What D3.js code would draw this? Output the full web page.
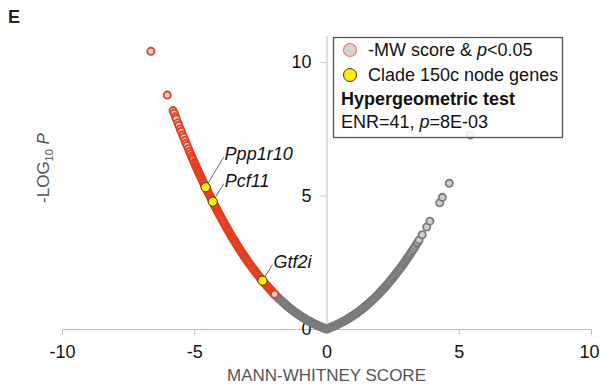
<!DOCTYPE html>
<html>
<head>
<meta charset="utf-8">
<script src="https://cdn.jsdelivr.net/npm/d3@7"></script>
<style>
  html, body { margin: 0; padding: 0; background: #fff; }
  svg { display: block; font-family: "Liberation Sans", Arial, sans-serif; }
</style>
</head>
<body>
<div id="chart"></div>
<script>
// [MW score, -log10 P]
// negative MW score & p<0.05 (red outline), ordered from most negative
const sigPoints = [
  [-6.64,10.40],[-6.02,8.76],
  [-5.80,8.18],[-5.76,8.08],[-5.71,7.95],[-5.68,7.87],[-5.62,7.72],[-5.58,7.62],[-5.53,7.49],[-5.49,7.40],
  [-5.44,7.27],[-5.40,7.18],[-5.35,7.06],[-5.31,6.96],[-5.27,6.87],[-5.22,6.75],[-5.18,6.65],[-5.14,6.56],
  [-5.10,6.47],[-5.07,6.40],[-5.04,6.33],
  [-5.000,6.24],[-4.975,6.19],[-4.950,6.13],[-4.925,6.07],[-4.900,6.02],[-4.875,5.96],[-4.850,5.91],[-4.825,5.85],
  [-4.800,5.80],[-4.775,5.75],[-4.750,5.69],[-4.725,5.64],[-4.700,5.59],[-4.675,5.53],[-4.650,5.48],[-4.625,5.43],
  [-4.600,5.37],[-4.575,5.32],[-4.550,5.27],[-4.525,5.22],[-4.500,5.17],[-4.475,5.12],[-4.450,5.07],[-4.425,5.02],
  [-4.400,4.97],[-4.375,4.92],[-4.350,4.87],[-4.325,4.82],[-4.300,4.77],[-4.275,4.72],[-4.250,4.67],[-4.225,4.62],
  [-4.200,4.57],[-4.175,4.53],[-4.150,4.48],[-4.125,4.43],[-4.100,4.38],[-4.075,4.34],[-4.050,4.29],[-4.025,4.25],
  [-4.000,4.20],
  [-3.97,4.14],[-3.94,4.09],[-3.91,4.04],[-3.88,3.98],[-3.85,3.93],[-3.82,3.88],[-3.79,3.82],[-3.76,3.77],
  [-3.73,3.72],[-3.70,3.67],[-3.67,3.62],[-3.64,3.56],[-3.61,3.51],[-3.58,3.46],[-3.55,3.41],[-3.52,3.37],
  [-3.49,3.32],[-3.46,3.27],[-3.43,3.22],[-3.40,3.17],[-3.37,3.12],[-3.34,3.08],[-3.31,3.03],[-3.28,2.98],
  [-3.25,2.94],[-3.22,2.89],[-3.19,2.85],[-3.16,2.80],[-3.13,2.76],[-3.10,2.71],[-3.07,2.67],[-3.04,2.63],
  [-3.01,2.58],
  [-2.97,2.53],[-2.94,2.48],[-2.90,2.43],[-2.87,2.39],[-2.83,2.33],[-2.80,2.29],[-2.76,2.24],[-2.73,2.20],
  [-2.69,2.15],[-2.66,2.11],[-2.62,2.06],[-2.59,2.02],[-2.55,1.97],[-2.52,1.93],[-2.48,1.88],[-2.45,1.85],
  [-2.41,1.80],[-2.38,1.76],[-2.34,1.72],[-2.31,1.68],[-2.27,1.64],[-2.24,1.60],[-2.20,1.56],[-2.17,1.52],
  [-2.13,1.48],[-2.10,1.45],[-2.06,1.41],[-2.03,1.37],[-1.99,1.33],[-1.96,1.30]
];

// all other genes (gray), ordered from most negative
const otherPoints = [
  [-1.95,1.29],[-1.91,1.25],[-1.87,1.21],[-1.83,1.17],[-1.79,1.13],[-1.75,1.10],[-1.71,1.06],[-1.67,1.02],
  [-1.63,0.99],[-1.59,0.95],[-1.55,0.92],[-1.51,0.88],[-1.47,0.85],[-1.43,0.82],[-1.39,0.78],[-1.35,0.75],
  [-1.31,0.72],[-1.27,0.69],[-1.23,0.66],[-1.19,0.63],[-1.15,0.60],[-1.11,0.57],[-1.07,0.55],[-1.03,0.52],
  [-0.99,0.49],[-0.95,0.47],[-0.91,0.44],[-0.87,0.42],[-0.83,0.39],[-0.79,0.37],[-0.75,0.34],[-0.71,0.32],
  [-0.67,0.30],[-0.63,0.28],[-0.59,0.26],[-0.55,0.24],[-0.51,0.22],[-0.47,0.20],[-0.43,0.18],[-0.39,0.16],
  [-0.35,0.14],[-0.31,0.12],[-0.27,0.10],[-0.23,0.09],[-0.19,0.07],[-0.15,0.06],[-0.11,0.04],[-0.07,0.03],
  [-0.03,0.01],[0.00,0.00],
  [0.03,0.01],[0.07,0.03],[0.11,0.04],[0.15,0.06],[0.19,0.07],[0.23,0.09],[0.27,0.10],[0.31,0.12],
  [0.35,0.14],[0.39,0.16],[0.43,0.18],[0.47,0.20],[0.51,0.22],[0.55,0.24],[0.59,0.26],[0.63,0.28],
  [0.67,0.30],[0.71,0.32],[0.75,0.34],[0.79,0.37],[0.83,0.39],[0.87,0.42],[0.91,0.44],[0.95,0.47],
  [0.99,0.49],[1.03,0.52],[1.07,0.55],[1.11,0.57],[1.15,0.60],[1.19,0.63],[1.23,0.66],[1.27,0.69],
  [1.31,0.72],[1.35,0.75],[1.39,0.78],[1.43,0.82],[1.47,0.85],[1.51,0.88],[1.55,0.92],[1.59,0.95],
  [1.63,0.99],[1.67,1.02],[1.71,1.06],[1.75,1.10],[1.79,1.13],[1.83,1.17],[1.87,1.21],[1.91,1.25],
  [1.95,1.29],[1.99,1.33],[2.03,1.37],[2.06,1.41],[2.10,1.45],[2.13,1.48],[2.17,1.52],[2.20,1.56],
  [2.24,1.60],[2.27,1.64],[2.31,1.68],[2.34,1.72],[2.38,1.76],[2.41,1.80],[2.45,1.85],[2.48,1.88],
  [2.52,1.93],[2.55,1.97],[2.59,2.02],[2.62,2.06],[2.66,2.11],[2.69,2.15],[2.73,2.20],[2.76,2.24],
  [2.80,2.29],[2.83,2.33],[2.87,2.39],[2.90,2.43],[2.94,2.48],[2.97,2.53],[3.01,2.58],[3.04,2.63],
  [3.07,2.67],[3.10,2.71],[3.13,2.76],[3.16,2.80],[3.19,2.85],[3.23,2.91],[3.27,2.97],[3.31,3.03],
  [3.36,3.11],[3.41,3.19],[3.45,3.25],[3.50,3.33],[3.62,3.53],[3.79,3.82],[3.91,4.04],[4.28,4.73],
  [4.38,4.93],[4.64,5.46],[5.44,7.27]
];

// Clade 150c node genes
const cladeGenes = ['Ppp1r10', 'Pcf11', 'Gtf2i'];
const cladeScores = [-4.57, -4.30, -2.42];
const cladeLogP = [5.31, 4.77, 1.81];

const xTicks = [-10, -5, 0, 5, 10];
const yTicks = [0, 5, 10];

const width = 600, height = 387;
const svg = d3.select('#chart').append('svg')
  .attr('width', width)
  .attr('height', height);

const x = d3.scaleLinear().domain([-10, 10]).range([62, 591]);
const y = d3.scaleLinear().domain([0, 11]).range([329, 35.3]);
const x0 = x(0);

// panel letter
svg.append('text')
  .attr('x', 8).attr('y', 23)
  .attr('font-size', 18).attr('font-weight', 'bold')
  .attr('fill', '#222')
  .text('E');

// x axis
const xAxis = svg.append('g')
  .attr('transform', `translate(0,${y(0)})`)
  .call(d3.axisBottom(x).tickValues(xTicks).tickSize(6).tickSizeOuter(0).tickPadding(10).tickFormat(d3.format('d')));
xAxis.select('.domain').attr('stroke', '#bfbfbf');
xAxis.selectAll('.tick line').attr('stroke', '#bfbfbf')
  .attr('display', d => d === 0 ? 'none' : null);
xAxis.selectAll('.tick text')
  .attr('font-size', 18).attr('fill', '#111')
  .attr('font-family', '"Liberation Sans", Arial, sans-serif')
  .text(d => d < 0 ? '-' + Math.abs(d) : d);
// last label sits against the right edge of the figure
xAxis.selectAll('.tick text').filter(d => d === 10)
  .attr('text-anchor', 'end').attr('x', 8);

// y axis through x = 0
const yAxis = svg.append('g')
  .attr('transform', `translate(${x0},0)`)
  .call(d3.axisLeft(y).tickValues(yTicks).tickSize(6).tickSizeOuter(0).tickPadding(9));
yAxis.select('.domain').attr('stroke', '#bfbfbf');
yAxis.selectAll('.tick line').attr('stroke', '#bfbfbf');
yAxis.selectAll('.tick text')
  .attr('font-size', 18).attr('fill', '#111')
  .attr('font-family', '"Liberation Sans", Arial, sans-serif');

// axis titles
svg.append('text')
  .attr('x', x0).attr('y', 381)
  .attr('text-anchor', 'middle')
  .attr('font-size', 17).attr('fill', '#555')
  .text('MANN-WHITNEY SCORE');

const yTitle = svg.append('text')
  .attr('transform', 'translate(49,168) rotate(-90)')
  .attr('text-anchor', 'middle')
  .attr('font-size', 17).attr('fill', '#555');
yTitle.append('tspan').text('-LOG');
yTitle.append('tspan').attr('font-size', 11).attr('dy', 4).text('10');
yTitle.append('tspan').attr('dy', -4).text(' ');
yTitle.append('tspan').attr('font-style', 'italic').text('P');

// gray genes
svg.append('g')
  .selectAll('circle')
  .data(otherPoints)
  .join('circle')
  .attr('cx', d => x(d[0]))
  .attr('cy', d => y(d[1]))
  .attr('r', 3.6)
  .attr('fill', '#cfcfcf')
  .attr('stroke', '#7a7a7a')
  .attr('stroke-width', 1.8);

// significant negative MW genes
svg.append('g')
  .selectAll('circle')
  .data(sigPoints)
  .join('circle')
  .attr('cx', d => x(d[0]))
  .attr('cy', d => y(d[1]))
  .attr('r', 3.6)
  .attr('fill', '#d4d4d4')
  .attr('stroke', '#e63c1c')
  .attr('stroke-width', 1.8);

// clade genes + labels
const labelOffsets = { Ppp1r10: [18, -30], Pcf11: [11, -18], Gtf2i: [10, -16] };
const clade = cladeGenes.map((g, i) => ({ gene: g, score: cladeScores[i], logp: cladeLogP[i] }));

const lab = svg.append('g');
clade.forEach(d => {
  const px = x(d.score), py = y(d.logp);
  const off = labelOffsets[d.gene];
  lab.append('line')
    .attr('x1', px).attr('y1', py)
    .attr('x2', px + off[0]).attr('y2', py + off[1])
    .attr('stroke', '#555').attr('stroke-width', 0.9);
  lab.append('text')
    .attr('x', px + off[0] + 1).attr('y', py + off[1] + 3)
    .attr('font-size', 18).attr('font-style', 'italic').attr('fill', '#111')
    .text(d.gene);
});

svg.append('g')
  .selectAll('circle')
  .data(clade)
  .join('circle')
  .attr('cx', d => x(d.score))
  .attr('cy', d => y(d.logp))
  .attr('r', 4.6)
  .attr('fill', '#ffee00')
  .attr('stroke', '#333')
  .attr('stroke-width', 1);

// legend
const lg = svg.append('g');
lg.append('rect')
  .attr('x', 333.5).attr('y', 37.5)
  .attr('width', 229).attr('height', 100)
  .attr('fill', '#fff').attr('fill-opacity', 0.85)
  .attr('stroke', '#555').attr('stroke-width', 1.3);

lg.append('circle').attr('cx', 350).attr('cy', 50).attr('r', 6.5)
  .attr('fill', '#d4d4d4').attr('stroke', '#ee7a60').attr('stroke-width', 1.2);
lg.append('circle').attr('cx', 350).attr('cy', 75).attr('r', 6.5)
  .attr('fill', '#ffee00').attr('stroke', '#333').attr('stroke-width', 1);

const t1 = lg.append('text').attr('x', 368).attr('y', 56).attr('font-size', 18).attr('fill', '#111');
t1.append('tspan').text('-MW score & ');
t1.append('tspan').attr('font-style', 'italic').text('p');
t1.append('tspan').text('<0.05');

lg.append('text').attr('x', 368).attr('y', 81).attr('font-size', 18).attr('fill', '#111')
  .text('Clade 150c node genes');

lg.append('text').attr('x', 341).attr('y', 105).attr('font-size', 18)
  .attr('font-weight', 'bold').attr('fill', '#111')
  .text('Hypergeometric test');

const t4 = lg.append('text').attr('x', 341).attr('y', 128).attr('font-size', 18).attr('fill', '#111');
t4.append('tspan').text('ENR=41, ');
t4.append('tspan').attr('font-style', 'italic').text('p');
t4.append('tspan').text('=8E-03');
</script>
</body>
</html>
